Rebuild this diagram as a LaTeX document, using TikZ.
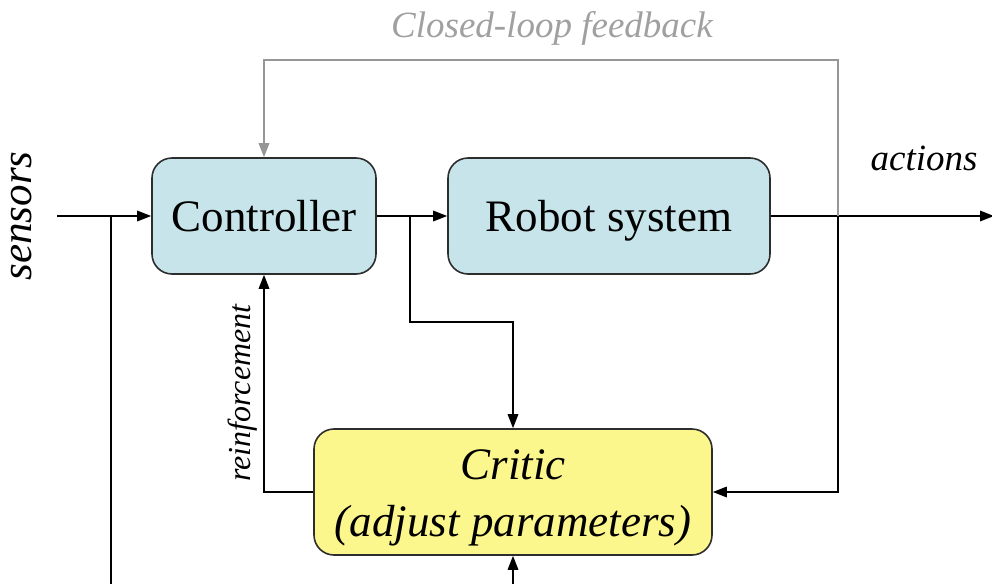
\documentclass[tikz,border=0pt]{standalone}
\usepackage{fontspec}
\setmainfont{Liberation Serif}
\usetikzlibrary{arrows.meta}
\definecolor{boxblue}{RGB}{198,228,233}
\definecolor{boxyellow}{RGB}{252,247,140}
\definecolor{boxedge}{RGB}{45,45,45}
\definecolor{loopgray}{RGB}{150,150,150}
\begin{document}
\begin{tikzpicture}[x=1pt,y=-1pt,
  block/.style={draw=boxedge, line width=1.6pt, rounded corners=20pt, align=center, inner sep=0pt},
  oneline/.style={text height=31pt, text depth=0pt, font=\fontsize{45}{50}\selectfont},
  conn/.style={draw=black, line width=1.6pt, -{Triangle[length=14pt,width=10.5pt]}},
  wire/.style={draw=black, line width=1.6pt},
  loop/.style={draw=loopgray, line width=1.6pt, -{Triangle[length=14pt,width=10.5pt]}},
  lbl/.style={font=\fontsize{37}{40}\selectfont\itshape, inner sep=0pt}]
\useasboundingbox (0,0) rectangle (992,584);

% blocks
\node[block, oneline, fill=boxblue, minimum width=224pt, minimum height=116pt] (ctrl) at (264,216) {Controller};
\node[block, oneline, fill=boxblue, minimum width=322pt, minimum height=116pt] (robot) at (609,216) {Robot system};
\node[block, fill=boxyellow, minimum width=398pt, minimum height=126pt,
      font=\fontsize{45}{57}\selectfont\itshape] (critic) at (513,492) {\rule{0pt}{41pt}Critic\\(adjust parameters)};

% junctions and free ends
\coordinate (sin) at (57,216);
\coordinate (sj) at (111,216);
\coordinate (sbot) at (111,584);
\coordinate (cj) at (410,216);
\coordinate (cjd) at (410,322);
\coordinate (fj) at (838,216);
\coordinate (ftop) at (838,60);
\coordinate (aout) at (994,216);
\coordinate (cbot) at (513,584);

% sensor input
\draw[conn] (sin) -- (ctrl.west);
\draw[wire] (sj) -- (sbot);

% controller to robot and critic
\draw[conn] (ctrl.east) -- (robot.west);
\draw[conn] (cj) -- (cjd) -| (critic.north);

% robot output
\draw[conn] (robot.east) -- (aout);
\draw[loop] (fj) -- (ftop) -| (ctrl.north);
\draw[conn] (fj) |- (critic.east);

% critic reinforcement back to controller
\draw[conn] (critic.west) -| (ctrl.south);
\draw[conn] (cbot) -- (critic.south);

% labels
\node[lbl, text=loopgray!90] (fbl) at (552,28) {Closed-loop feedback};
\node[lbl] (act) at (924,158) {actions};
\node[lbl, font=\fontsize{43}{46}\selectfont\itshape, rotate=90] (sens) at (22,216) {sensors};
\node[lbl, font=\fontsize{32}{35}\selectfont\itshape, rotate=90] (reinf) at (243,393) {reinforcement};
\end{tikzpicture}
\end{document}
